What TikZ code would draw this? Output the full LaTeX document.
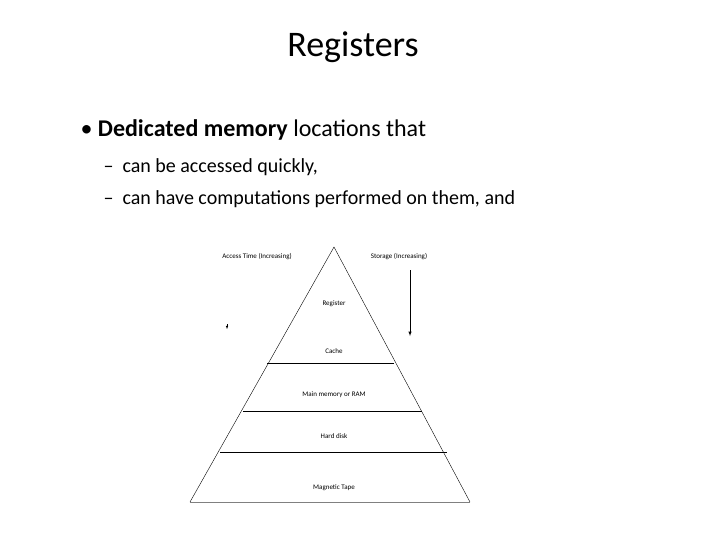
\documentclass[tikz,border=0pt]{standalone}
\usepackage{fontspec}
\setmainfont{Carlito}
\begin{document}
\begin{tikzpicture}[x=1pt,y=-1pt,
  lab/.style={font=\fontsize{7}{8}\selectfont, inner sep=0pt},
  ln/.style={line width=0.6pt}]
\useasboundingbox (0,0) rectangle (720,540);
\node[font=\fontsize{36}{40}\selectfont] (title) at (353,47) {Registers};
\node[anchor=west,font=\fontsize{24}{28}\selectfont] (b1) at (77,130) {\textbullet\ \textbf{Dedicated memory} locations that};
\node[anchor=west,font=\fontsize{20}{24}\selectfont] (s1) at (100,167) {--\ \ can be accessed quickly,};
\node[anchor=west,font=\fontsize{20}{24}\selectfont] (s2) at (100,199) {--\ \ can have computations performed on them, and};
\coordinate (apex) at (334,247);
\coordinate (bl) at (190,502);
\coordinate (br) at (470,502);
\draw[line width=0.4pt] (bl) -- (apex) -- (br);
\draw[gray,line width=0.8pt] (bl) -- (br);
\draw[ln] (267,363) -- (394,363);
\draw[ln] (243,411) -- (422,411);
\draw[ln] (220,452) -- (447,452);
\coordinate (a1) at (410,270);
\coordinate (a2) at (410,336);
\draw[line width=0.5pt,-latex] (a1) -- (a2);
\coordinate (l1) at (227,324);
\coordinate (l2) at (227,329);
\draw[line width=0.1pt,-latex] (l1) -- (l2);
\node[lab] (at) at (257,257) {Access Time (Increasing)};
\node[lab] (st) at (399,257) {Storage (Increasing)};
\node[lab] (r) at (334,304) {Register};
\node[lab] (c) at (334,351) {Cache};
\node[lab] (m) at (334,395) {Main memory or RAM};
\node[lab] (h) at (334,436) {Hard disk};
\node[lab] (t) at (334,488) {Magnetic Tape};
\end{tikzpicture}
\end{document}
